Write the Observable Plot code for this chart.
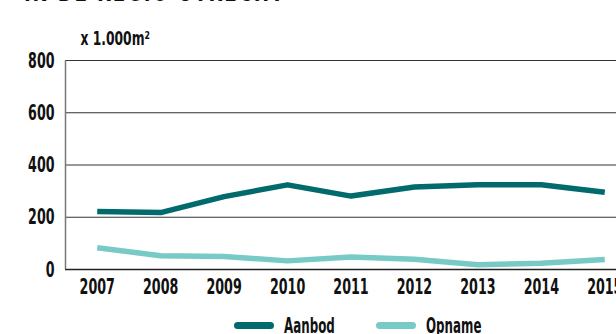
<!DOCTYPE html>
<html>
<head>
<meta charset="utf-8">
<script src="https://cdn.jsdelivr.net/npm/d3@7"></script>
<script src="https://cdn.jsdelivr.net/npm/@observablehq/plot@0.6"></script>
<style>
  html, body { margin: 0; padding: 0; background: #fff; overflow: hidden; width: 616px; height: 334px; }
  #wrap { position: relative; width: 640px; font-family: "DejaVu Sans Condensed", "DejaVu Sans", sans-serif; font-stretch: condensed; color: #111; }
  #title { position: absolute; left: 24px; top: -21px; font-size: 24px; font-weight: bold; letter-spacing: 2px; white-space: nowrap; }
  #legend { position: absolute; left: 0; top: 313px; width: 640px; height: 30px; font-size: 22px; font-weight: bold; }
  .item { position: absolute; top: 0; display: flex; align-items: center; }
  .sw { width: 40px; height: 7px; border-radius: 4px; margin-right: 10px; }
  .lab { display: inline-block; transform: scaleX(0.6); transform-origin: left center; }
</style>
</head>
<body>
<div id="wrap">
  <div id="title">IN DE REGIO UTRECHT</div>
  <div id="chart"></div>
  <div id="legend"></div>
</div>
<script>
const years = [2007, 2008, 2009, 2010, 2011, 2012, 2013, 2014, 2015];
const aanbod = [222, 218, 279, 324, 281, 316, 324, 324, 296];
const opname = [83, 53, 50, 33, 48, 39, 18, 24, 38];
const yTicks = [0, 200, 400, 600, 800];
const seriesNames = ["Aanbod", "Opname"];
const seriesColors = ["#006a6c", "#78cac6"];
const unitLabel = "x 1.000m²";

const rows = [];
years.forEach((y, i) => {
  rows.push({year: y, value: aanbod[i], series: seriesNames[0]});
  rows.push({year: y, value: opname[i], series: seriesNames[1]});
});

const font = "'DejaVu Sans Condensed', 'DejaVu Sans', sans-serif";

const chart = Plot.plot({
  width: 640,
  height: 300,
  marginLeft: 65,
  marginRight: 4,
  marginTop: 60,
  marginBottom: 31,
  style: {fontFamily: font, fontSize: "22px", fontWeight: "bold", color: "#111", background: "white", overflow: "visible"},
  x: {domain: [years[0] - 0.5, years[years.length - 1] + 0.5]},
  y: {domain: [0, 800]},
  color: {domain: seriesNames, range: seriesColors},
  marks: [
    Plot.ruleY(yTicks.slice(1), {stroke: "#333", strokeWidth: 1}),
    Plot.ruleY([0], {stroke: "#222", strokeWidth: 1.5}),
    Plot.ruleX([years[0] - 0.5], {y1: 0, y2: 800, stroke: "#777", strokeWidth: 1.5}),
    Plot.axisY({ticks: yTicks, tickSize: 0, tickPadding: 11, label: null, tickFormat: d => String(d), fontSize: 22}),
    Plot.axisX({ticks: years, tickSize: 0, tickPadding: 9, label: null, tickFormat: d => String(d), fontSize: 22}),
    Plot.line(rows, {x: "year", y: "value", z: "series", stroke: "series", strokeWidth: 5.5, strokeLinejoin: "round", strokeLinecap: "butt"}),
    Plot.text([unitLabel], {frameAnchor: "top-left", dx: 15, dy: -29, textAnchor: "start", fontSize: 19, fill: "#111", className: "unit"})
  ]
});
document.getElementById("chart").appendChild(chart);

// condense text glyphs to mimic the narrow typeface of the reference
chart.querySelectorAll("text").forEach(t => {
  const L = t.getComputedTextLength();
  const k = t.closest(".unit") ? 0.72 : 0.64;
  if (L > 0) {
    t.setAttribute("textLength", (L * k).toFixed(1));
    t.setAttribute("lengthAdjust", "spacingAndGlyphs");
  }
});

const legend = document.getElementById("legend");
const lx = [234, 376];
seriesNames.forEach((n, i) => {
  const it = document.createElement("div");
  it.className = "item";
  it.style.left = lx[i] + "px";
  const sw = document.createElement("div");
  sw.className = "sw";
  sw.style.background = seriesColors[i];
  const t = document.createElement("span");
  t.className = "lab";
  t.textContent = n;
  it.appendChild(sw);
  it.appendChild(t);
  legend.appendChild(it);
});
const tt = document.getElementById("title");
tt.style.transform = "scaleX(0.85)";
tt.style.transformOrigin = "left";
</script>
</body>
</html>
